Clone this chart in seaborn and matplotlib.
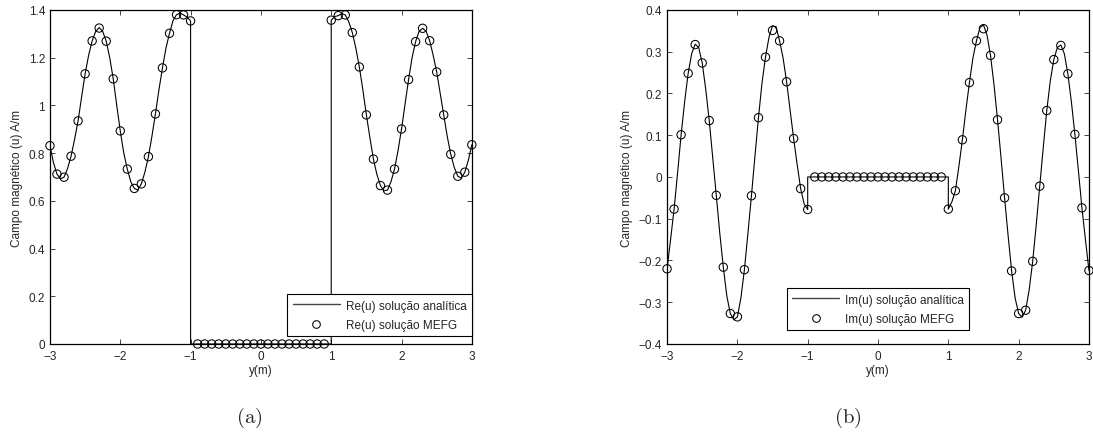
import numpy as np
import pandas as pd
import matplotlib
matplotlib.use("Agg")
import matplotlib.pyplot as plt
import seaborn as sns
from matplotlib.lines import Line2D

# ---------------- data ----------------
# MEFG markers (every 0.1 m from -3 to 3)
marker_y = [round(-3.0 + 0.1 * i, 1) for i in range(61)]
re_mefg = [0.831, 0.712, 0.699, 0.787, 0.935, 1.132, 1.270, 1.324, 1.269, 1.111,
           0.893, 0.733, 0.652, 0.671, 0.785, 0.964, 1.157, 1.302, 1.380, 1.379,
           1.354,
           0, 0, 0, 0, 0, 0, 0, 0, 0, 0, 0, 0, 0, 0, 0, 0, 0, 0, 0,
           1.357, 1.376, 1.379, 1.305, 1.161, 0.960, 0.775, 0.664, 0.645, 0.733,
           0.901, 1.108, 1.267, 1.323, 1.271, 1.140, 0.960, 0.795, 0.703, 0.720,
           0.835]
im_mefg = [-0.220, -0.077, 0.101, 0.248, 0.317, 0.273, 0.135, -0.044, -0.216, -0.327,
           -0.335, -0.222, -0.045, 0.142, 0.287, 0.351, 0.326, 0.228, 0.092, -0.028,
           -0.078,
           0, 0, 0, 0, 0, 0, 0, 0, 0, 0, 0, 0, 0, 0, 0, 0, 0, 0, 0,
           -0.077, -0.033, 0.089, 0.226, 0.326, 0.355, 0.291, 0.137, -0.050, -0.225,
           -0.327, -0.319, -0.202, -0.022, 0.159, 0.281, 0.315, 0.247, 0.102, -0.074,
           -0.224]

# analytic curve (read every 0.05 m), with jumps at y = -1 and y = 1
line_y = ([round(-3.0 + 0.05 * i, 2) for i in range(41)] + [-1.0, 1.0]
          + [round(1.0 + 0.05 * i, 2) for i in range(41)])
re_line = [0.831, 0.760, 0.712, 0.692, 0.699, 0.735, 0.787, 0.857, 0.935, 1.035,
           1.132, 1.210, 1.270, 1.310, 1.326, 1.310, 1.269, 1.200, 1.111, 1.000,
           0.893, 0.800, 0.733, 0.680, 0.652, 0.645, 0.671, 0.720, 0.785, 0.870,
           0.964, 1.065, 1.157, 1.240, 1.302, 1.355, 1.380, 1.387, 1.379, 1.370,
           1.354,
           0.0, 0.0,
           1.357, 1.372, 1.376, 1.385, 1.379, 1.350, 1.305, 1.240, 1.161, 1.065,
           0.960, 0.865, 0.775, 0.710, 0.664, 0.642, 0.645, 0.680, 0.733, 0.810,
           0.901, 1.005, 1.108, 1.200, 1.267, 1.310, 1.323, 1.310, 1.271, 1.210,
           1.140, 1.050, 0.960, 0.870, 0.795, 0.740, 0.703, 0.695, 0.720, 0.770,
           0.835]
im_line = [-0.220, -0.150, -0.077, 0.010, 0.101, 0.180, 0.248, 0.295, 0.318, 0.310,
           0.273, 0.210, 0.135, 0.045, -0.044, -0.135, -0.216, -0.285, -0.327, -0.342,
           -0.335, -0.290, -0.222, -0.135, -0.045, 0.050, 0.142, 0.225, 0.287, 0.335,
           0.362, 0.360, 0.326, 0.285, 0.228, 0.160, 0.092, 0.030, -0.028, -0.065,
           -0.078,
           0.0, 0.0,
           -0.077, -0.060, -0.033, 0.025, 0.089, 0.160, 0.226, 0.285, 0.326, 0.358,
           0.364, 0.340, 0.291, 0.220, 0.137, 0.045, -0.050, -0.140, -0.225, -0.290,
           -0.327, -0.336, -0.319, -0.270, -0.202, -0.115, -0.022, 0.070, 0.159, 0.230,
           0.281, 0.310, 0.316, 0.295, 0.247, 0.180, 0.102, 0.015, -0.074, -0.150,
           -0.224]

x_ticks = [-3, -2, -1, 0, 1, 2, 3]
x_tick_labels = ["\u22123", "\u22122", "\u22121", "0", "1", "2", "3"]
re_ticks = [0, 0.2, 0.4, 0.6, 0.8, 1.0, 1.2, 1.4]
re_tick_labels = ["0", "0.2", "0.4", "0.6", "0.8", "1", "1.2", "1.4"]
im_ticks = [-0.4, -0.3, -0.2, -0.1, 0, 0.1, 0.2, 0.3, 0.4]
im_tick_labels = ["\u22120.4", "\u22120.3", "\u22120.2", "\u22120.1", "0",
                  "0.1", "0.2", "0.3", "0.4"]

# ---------------- style ----------------
sns.set_style("ticks")
plt.rcParams["font.family"] = ["Liberation Sans", "DejaVu Sans"]
plt.rcParams["mathtext.fontset"] = "cm"
plt.rcParams["axes.linewidth"] = 0.9
plt.rcParams["xtick.direction"] = "in"
plt.rcParams["ytick.direction"] = "in"

fig = plt.figure(figsize=(10.93, 4.35), dpi=100)
ax1 = fig.add_axes([0.0457, 0.2069, 0.386, 0.768])
ax2 = fig.add_axes([0.6103, 0.2069, 0.386, 0.768])

df_line = pd.DataFrame({"y": line_y, "re": re_line, "im": im_line})
df_mk = pd.DataFrame({"y": marker_y, "re": re_mefg, "im": im_mefg})

panels = [
    (ax1, "re", "Re(u)", (0, 1.4), re_ticks, re_tick_labels,
     dict(loc="lower right", bbox_to_anchor=(1.0, 0.024))),
    (ax2, "im", "Im(u)", (-0.4, 0.4), im_ticks, im_tick_labels,
     dict(loc="lower center", bbox_to_anchor=(0.5, 0.042))),
]

for ax, col, name, ylim, yt, ytl, legkw in panels:
    sns.lineplot(data=df_line, x="y", y=col, estimator=None, sort=False,
                 color="black", linewidth=0.8, ax=ax, legend=False)
    sns.scatterplot(data=df_mk, x="y", y=col, marker="o", s=36,
                    facecolor="none", edgecolor="black", linewidth=0.75,
                    ax=ax, legend=False, clip_on=False, zorder=3)
    ax.set_xlim(-3, 3)
    ax.set_ylim(*ylim)
    ax.set_xticks(x_ticks)
    ax.set_xticklabels(x_tick_labels)
    ax.set_yticks(yt)
    ax.set_yticklabels(ytl)
    ax.tick_params(axis="both", which="both", direction="in", length=3.5,
                   width=0.6, labelsize=8.5, top=True, right=True)
    ax.tick_params(axis="x", pad=4.5)
    ax.tick_params(axis="y", pad=3.5)
    for s in ax.spines.values():
        s.set_visible(True)
        s.set_color("black")
    ax.set_xlabel("y(m)", fontsize=8.5, labelpad=1.5)
    ax.set_ylabel("Campo magnético (u) A/m", fontsize=8.5, labelpad=4)
    handles = [
        Line2D([], [], color="#444444", linewidth=1.0),
        Line2D([], [], color="black", marker="o", linestyle="none",
               markerfacecolor="none", markersize=5.5, markeredgewidth=0.75),
    ]
    labels = [f"{name} solução analítica", f"{name} solução MEFG"]
    leg = ax.legend(handles, labels, fontsize=8.5, frameon=True, fancybox=False,
                    edgecolor="black", framealpha=1, borderaxespad=0,
                    handlelength=4.0, handletextpad=0.5, labelspacing=0.6,
                    borderpad=0.45, **legkw)
    leg.get_frame().set_linewidth(0.8)

fig.text(0.228, 0.04, r"$\mathrm{(a)}$", ha="center", va="center", fontsize=15)
fig.text(0.776, 0.04, r"$\mathrm{(b)}$", ha="center", va="center", fontsize=15)

fig.savefig("out.png", dpi=100)
